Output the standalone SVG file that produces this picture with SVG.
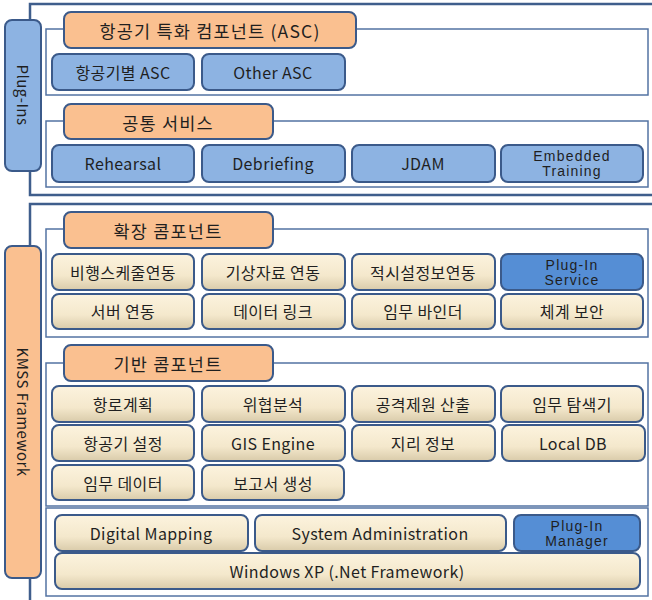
<svg xmlns="http://www.w3.org/2000/svg" width="652" height="600" viewBox="0 0 652 600">
<style>
.frame{fill:none;stroke:#3f5e8c;stroke-width:2.5}
.grp{fill:#fff;stroke:#5373a3;stroke-width:1.5}
.hdr{fill:#fac090;stroke:#3b5a8a;stroke-width:2}
.cream{fill:url(#cg);stroke:#3b5a8a;stroke-width:2}
.lb{fill:#8db3e2;stroke:#3b5a8a;stroke-width:2}
.db{fill:#558ed5;stroke:#3b5a8a;stroke-width:2}
text{font-family:"Noto Sans CJK KR","Liberation Sans",sans-serif;fill:#1f1f1f;text-anchor:middle;dominant-baseline:central}
.t{font-size:16px;letter-spacing:0.4px}
.h{font-size:17.5px;letter-spacing:1.2px}
.s{font-family:"Liberation Sans",sans-serif;font-size:14px;letter-spacing:1.2px}
.v{font-size:15px;letter-spacing:0.5px}
</style>
<defs>
<linearGradient id="cg" x1="0" y1="0" x2="0" y2="1">
<stop offset="0" stop-color="#fcf3de"/>
<stop offset="0.6" stop-color="#f4e8cc"/>
<stop offset="1" stop-color="#d9cbaa"/>
</linearGradient>
</defs>
<rect width="652" height="600" fill="#fff"/>
<g id="connectors">
<path class="frame" d="M653,4 H30 V195 H653"/>
<path class="frame" d="M653,204 H30 V601"/>
</g>
<g id="plugins-label"><rect class="lb" x="5" y="20" width="36" height="151" rx="7"/><text class="v" transform="translate(23,95) rotate(90)">Plug-Ins</text></g>
<g id="kmss-label"><rect class="hdr" x="5" y="246" width="36" height="332" rx="7"/><text class="v" transform="translate(23,412) rotate(90)">KMSS Framework</text></g>

<g id="grp-asc"><rect class="grp" x="46" y="29" width="602" height="66"/></g>
<g id="hdr-asc"><rect class="hdr" x="64" y="12" width="292" height="36" rx="7"/><text class="h" x="210" y="30">항공기 특화 컴포넌트 (ASC)</text></g>
<g id="n-asc1"><rect class="lb" x="52" y="54" width="142" height="36" rx="7"/><text class="t" x="123" y="72">항공기별 ASC</text></g>
<g id="n-asc2"><rect class="lb" x="202" y="54" width="143" height="36" rx="7"/><text class="t" x="273" y="72">Other ASC</text></g>

<g id="grp-common"><rect class="grp" x="46" y="121" width="602" height="66"/></g>
<g id="hdr-common"><rect class="hdr" x="64" y="104" width="209" height="35" rx="7"/><text class="h" x="168" y="122">공통 서비스</text></g>
<g id="n-rehearsal"><rect class="lb" x="52" y="145" width="142" height="37" rx="7"/><text class="t" x="123" y="163">Rehearsal</text></g>
<g id="n-debriefing"><rect class="lb" x="202" y="145" width="143" height="37" rx="7"/><text class="t" x="273" y="163">Debriefing</text></g>
<g id="n-jdam"><rect class="lb" x="352" y="145" width="143" height="37" rx="7"/><text class="t" x="423" y="163">JDAM</text></g>
<g id="n-embedded"><rect class="lb" x="501" y="145" width="142" height="37" rx="7"/><text class="s" x="572" y="155.5">Embedded</text><text class="s" x="572" y="170.5">Training</text></g>

<g id="grp-ext"><rect class="grp" x="46" y="229" width="602" height="108"/></g>
<g id="hdr-ext"><rect class="hdr" x="64" y="212" width="209" height="36" rx="7"/><text class="h" x="168" y="230">확장 콤포넌트</text></g>
<g id="n-e1"><rect class="cream" x="52" y="254" width="142" height="36" rx="7"/><text class="t" x="123" y="272">비행스케줄연동</text></g>
<g id="n-e2"><rect class="cream" x="202" y="254" width="143" height="36" rx="7"/><text class="t" x="273" y="272">기상자료 연동</text></g>
<g id="n-e3"><rect class="cream" x="352" y="254" width="143" height="36" rx="7"/><text class="t" x="423" y="272">적시설정보연동</text></g>
<g id="n-e4"><rect class="db" x="501" y="254" width="142" height="36" rx="7"/><text class="s" x="572" y="264.5">Plug-In</text><text class="s" x="572" y="279.5">Service</text></g>
<g id="n-e5"><rect class="cream" x="52" y="294" width="142" height="35" rx="7"/><text class="t" x="123" y="311">서버 연동</text></g>
<g id="n-e6"><rect class="cream" x="202" y="294" width="143" height="35" rx="7"/><text class="t" x="273" y="311">데이터 링크</text></g>
<g id="n-e7"><rect class="cream" x="352" y="294" width="143" height="35" rx="7"/><text class="t" x="423" y="311">임무 바인더</text></g>
<g id="n-e8"><rect class="cream" x="501" y="294" width="142" height="35" rx="7"/><text class="t" x="572" y="311">체계 보안</text></g>

<g id="grp-base"><rect class="grp" x="46" y="363" width="602" height="143"/></g>
<g id="hdr-base"><rect class="hdr" x="64" y="345" width="209" height="36" rx="7"/><text class="h" x="168" y="363">기반 콤포넌트</text></g>
<g id="n-b1"><rect class="cream" x="52" y="386" width="142" height="36" rx="7"/><text class="t" x="123" y="404">항로계획</text></g>
<g id="n-b2"><rect class="cream" x="202" y="386" width="143" height="36" rx="7"/><text class="t" x="273" y="404">위협분석</text></g>
<g id="n-b3"><rect class="cream" x="352" y="386" width="143" height="36" rx="7"/><text class="t" x="423" y="404">공격제원 산출</text></g>
<g id="n-b4"><rect class="cream" x="501" y="386" width="142" height="36" rx="7"/><text class="t" x="572" y="404">임무 탐색기</text></g>
<g id="n-b5"><rect class="cream" x="52" y="425" width="142" height="36" rx="7"/><text class="t" x="123" y="443">항공기 설정</text></g>
<g id="n-b6"><rect class="cream" x="202" y="425" width="143" height="36" rx="7"/><text class="t" x="273" y="443">GIS Engine</text></g>
<g id="n-b7"><rect class="cream" x="352" y="425" width="143" height="36" rx="7"/><text class="t" x="423" y="443">지리 정보</text></g>
<g id="n-b8"><rect class="cream" x="502" y="425" width="143" height="36" rx="7"/><text class="t" x="573" y="443">Local DB</text></g>
<g id="n-b9"><rect class="cream" x="52" y="465" width="142" height="35" rx="7"/><text class="t" x="123" y="483">임무 데이터</text></g>
<g id="n-b10"><rect class="cream" x="202" y="465" width="142" height="35" rx="7"/><text class="t" x="273" y="483">보고서 생성</text></g>

<g id="grp-core"><rect class="grp" x="46" y="508" width="602" height="88"/></g>
<g id="n-dm"><rect class="cream" x="55" y="515" width="193" height="36" rx="7"/><text class="t" x="151" y="533">Digital Mapping</text></g>
<g id="n-sa"><rect class="cream" x="255" y="515" width="251" height="36" rx="7"/><text class="t" x="380" y="533">System Administration</text></g>
<g id="n-pm"><rect class="db" x="514" y="515" width="126" height="36" rx="7"/><text class="s" x="577" y="525.5">Plug-In</text><text class="s" x="577" y="540.5">Manager</text></g>
<g id="n-win"><rect class="cream" x="55" y="553" width="585" height="36" rx="7"/><text class="t" x="347" y="571">Windows XP (.Net Framework)</text></g>
</svg>
